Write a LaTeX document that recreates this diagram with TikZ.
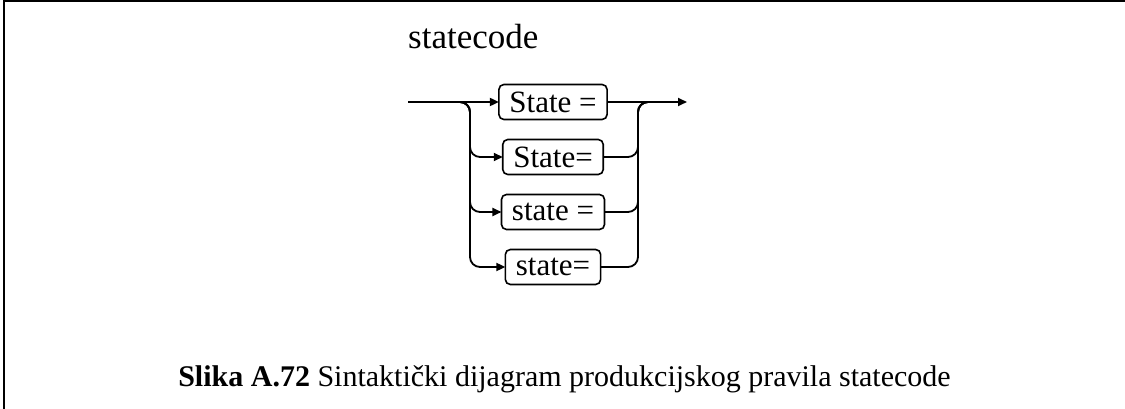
\documentclass[tikz,border=0pt]{standalone}
\usepackage{fontspec}
\setmainfont{Liberation Serif}
\usetikzlibrary{arrows.meta, positioning}

\begin{document}
\begin{tikzpicture}[
    x=1pt, y=1pt,
    node distance=20pt,
    term/.style={rectangle, rounded corners=5pt, minimum height=35pt, inner xsep=10.5pt, inner ysep=0pt, outer sep=0pt, text centered, draw=black, line width=1.6pt, font=\fontsize{31}{33}\selectfont},
    rail/.style={line width=1.8pt, rounded corners=10pt},
    arrow/.style={line width=1.8pt, rounded corners=10pt, -{Triangle[length=9pt, width=8pt]}},
]

    % frame
    \useasboundingbox (0,0) rectangle (1125,409);
    \draw [line width=2pt] (4,0) -- (4,408) -- (1125,408);

    % statecode
    \node (title) [anchor=base west, inner sep=0pt, font=\fontsize{35}{40}\selectfont] at (408,360) {statecode};

    \node (s1) [term] at (553,307) {State =};
    \node (s2) [term, below=of s1] {State=};
    \node (s3) [term, below=of s2] {state =};
    \node (s4) [term, below=of s3] {state=};

    \coordinate (in) at (408,307);
    \coordinate (split) at (460,307);
    \coordinate (lrail) at (470,307);
    \coordinate (rrail) at (638,307);
    \coordinate (join) at (648,307);
    \coordinate (out) at (687,307);

    \draw [arrow] (in) -- (s1);
    \draw [arrow] (s1) -- (out);
    \draw [arrow] (split) -- (lrail) |- (s2);
    \draw [arrow] (split) -- (lrail) |- (s3);
    \draw [arrow] (split) -- (lrail) |- (s4);
    \draw [rail] (s2) -| (rrail) -- (join);
    \draw [rail] (s3) -| (rrail) -- (join);
    \draw [rail] (s4) -| (rrail) -- (join);

    % caption
    \node (caption) [anchor=base, inner sep=0pt, font=\fontsize{30}{34}\selectfont] at (564.5,22) {\textbf{Slika A.72} Sintaktički dijagram produkcijskog pravila statecode};

\end{tikzpicture}
\end{document}
